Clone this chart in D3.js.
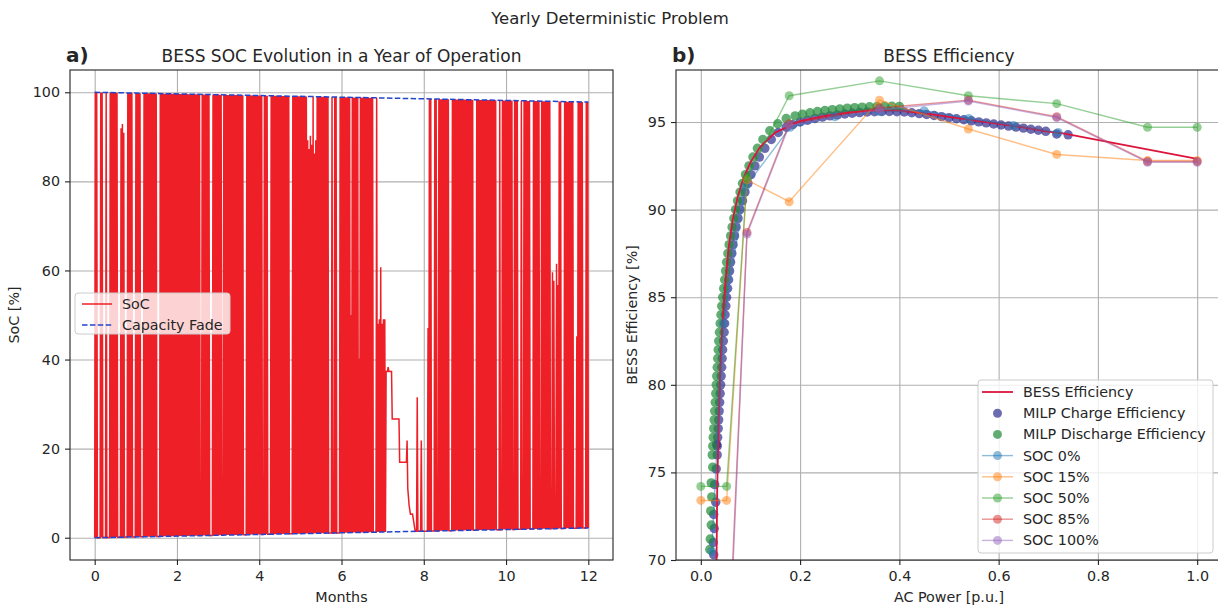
<!DOCTYPE html>
<html>
<head>
<meta charset="utf-8">
<script src="https://cdn.jsdelivr.net/npm/d3@7/dist/d3.min.js"></script>
<style>
  body { margin: 0; background: #fff; }
  svg text { font-family: "DejaVu Sans", sans-serif; fill: #262626; }
</style>
</head>
<body>
<svg id="fig" width="1218" height="605"></svg>
<script>
/** Capacity fade limits (SoC %) at start and end of the year */
var fadeMonths = [0, 12],
    fadeUpper = [100, 97.8],
    fadeLower = [0, 2.2];

/** SoC every half day, as % of the usable window between the fade limits */
var socLevel = [
    0,100,0,100,0,0,0,0,0,100,0,100,0,0,0,0,0,100,0,0,
    0,0,0,100,0,100,0,100,0,100,0,100,0,100,0,0,0,0,0,92,
    0,93,0,91,0,0,0,0,0,100,0,100,0,100,0,100,0,0,0,0,
    0,100,0,100,0,100,0,100,0,0,0,0,0,100,0,100,0,100,0,100,
    0,100,0,100,0,100,0,100,0,100,0,100,0,0,0,0,0,100,0,100,
    0,100,0,100,0,100,0,100,0,100,0,100,0,100,0,100,0,100,0,100,
    0,100,0,100,0,100,0,100,0,100,0,100,0,100,0,100,0,100,0,100,
    0,100,0,100,0,100,0,100,0,100,0,100,0,100,0,100,0,0,0,100,
    0,100,0,100,0,100,0,100,0,100,0,0,0,0,0,100,0,100,0,100,
    0,100,0,100,0,100,0,100,0,0,0,100,0,100,0,100,0,100,0,100,
    0,100,0,100,0,100,0,100,0,100,0,100,0,100,0,100,0,100,0,100,
    0,0,0,0,0,100,0,100,0,100,0,100,0,100,0,100,0,100,0,100,
    0,100,0,100,0,100,0,100,0,0,0,100,0,100,0,100,0,0,0,0,
    0,100,0,100,0,100,0,100,0,100,0,100,0,100,0,100,0,100,0,100,
    0,100,0,100,0,100,0,100,0,0,0,0,0,100,0,100,0,100,0,100,
    0,100,0,100,0,100,0,100,0,100,0,100,0,100,0,90,0,88,0,91,
    0,89,0,100,0,87,0,90,0,100,0,100,0,100,0,100,0,100,0,100,
    0,100,0,100,0,100,0,0,0,0,0,100,0,0,0,100,0,100,0,0,
    0,0,0,100,0,100,0,100,0,100,0,100,0,100,0,100,0,100,0,50,
    0,100,0,100,0,100,0,100,0,100,0,40,0,100,0,100,0,100,0,100,
    0,100,0,100,0,100,0,100,0,100,0,100,0,0,0,0,0,100,0,48,
    0,49,0,61,0,48,0,49,0,49,0,37,37,37,38,37,37,37,37,37,
    26,26,26,26,26,26,26,26,26,26,26,16,16,16,16,16,16,16,16,16,
    16,16,21,10,8,6,5,4,4,4,4,3,2,1,0,0,0,31,0,0,
    0,0,0,21,0,0,0,0,0,0,0,0,0,47,0,100,0,100,0,0,
    0,0,0,100,0,100,0,0,0,100,0,100,0,100,0,100,0,100,0,100,
    0,100,0,100,0,0,0,0,0,100,0,100,0,100,0,100,0,100,0,100,
    0,100,0,100,0,100,0,100,0,100,0,100,0,100,0,100,0,100,0,100,
    0,0,0,0,0,100,0,100,0,100,0,100,0,100,0,100,0,100,0,100,
    0,100,0,100,0,100,0,100,0,100,0,100,0,100,0,0,0,0,0,100,
    0,0,0,100,0,100,0,100,0,100,0,100,0,100,0,100,0,100,0,0,
    0,100,0,100,0,100,0,0,0,0,0,100,0,0,0,100,0,100,0,100,
    0,100,0,100,0,0,0,0,0,100,0,100,0,100,0,100,0,100,0,0,
    0,100,0,100,0,100,0,100,0,100,0,100,0,100,0,0,0,60,0,58,
    0,0,0,62,0,57,0,100,0,100,0,0,0,0,0,100,0,100,0,100,
    0,100,0,100,0,100,0,100,0,0,0,0,0,45,0,100,0,100,0,100,
    0,100,0,0,0,0,0,100,0,100,
    0
];
var socStepDays = 0.5,
    daysPerMonth = 365 / 12;

/** BESS efficiency curve */
var effPower = [0.031, 0.033, 0.036, 0.040, 0.045, 0.050, 0.056, 0.064, 0.074, 0.086, 0.100, 0.120, 0.150,
                0.200, 0.250, 0.300, 0.350, 0.400, 0.450, 0.500, 0.550, 0.600, 0.650, 0.700, 0.730, 1.000];
var effValue = [68.0, 74.0, 78.0, 81.5, 84.0, 86.0, 87.8, 89.4, 90.7, 91.8, 92.7, 93.6, 94.4,
                95.05, 95.35, 95.55, 95.65, 95.65, 95.5, 95.3, 95.1, 94.9, 94.7, 94.45, 94.35, 92.9];

/** MILP charge efficiency points */
var chargePower = [0.026, 0.025, 0.027, 0.026, 0.030, 0.028, 0.031, 0.033, 0.032,
                   0.033, 0.034, 0.035, 0.036, 0.037, 0.038, 0.039, 0.040, 0.041, 0.042, 0.043, 0.044,
                   0.0455, 0.047, 0.048, 0.049, 0.0505, 0.052, 0.054, 0.056, 0.058, 0.060, 0.0625, 0.065,
                   0.068, 0.071, 0.075, 0.079, 0.084, 0.089, 0.095, 0.101, 0.109, 0.118, 0.129, 0.142,
                   0.156, 0.172, 0.185, 0.200, 0.215, 0.230, 0.245, 0.260, 0.275, 0.290, 0.305, 0.320,
                   0.335, 0.350, 0.365, 0.380, 0.395, 0.410, 0.425, 0.440, 0.455, 0.470, 0.485, 0.500,
                   0.515, 0.530, 0.545, 0.560, 0.575, 0.590, 0.605, 0.620, 0.635, 0.650, 0.665, 0.680,
                   0.695, 0.717, 0.740];
var chargeEff = [70.3, 71.0, 71.8, 72.6, 73.3, 74.3, 75.2, 76.0, 76.6,
                 76.5, 77.0, 77.5, 78.0, 78.5, 79.0, 79.5, 80.0, 80.5, 81.0, 81.5, 82.0,
                 82.5, 83.0, 83.5, 84.0, 84.5, 85.0, 85.5, 86.0, 86.5, 87.0, 87.5, 88.0,
                 88.5, 89.0, 89.5, 90.0, 90.5, 91.0, 91.5, 92.0, 92.5, 93.0, 93.5, 94.0,
                 94.4, 94.7, 94.85, 95.0, 95.1, 95.2, 95.28, 95.35, 95.41, 95.46, 95.5, 95.54,
                 95.57, 95.59, 95.6, 95.6, 95.59, 95.57, 95.53, 95.48, 95.43, 95.37, 95.31, 95.25,
                 95.19, 95.13, 95.07, 95.01, 94.95, 94.89, 94.83, 94.77, 94.71, 94.65, 94.59, 94.53,
                 94.47, 94.32, 94.27];

/** MILP discharge efficiency points */
var dischargePower = [0.018, 0.019, 0.021, 0.020, 0.022, 0.021, 0.024, 0.023,
                      0.024, 0.025, 0.026, 0.027, 0.028, 0.029, 0.030, 0.031, 0.032, 0.033, 0.034, 0.035,
                      0.036, 0.0375, 0.039, 0.0405, 0.042, 0.044, 0.046, 0.048, 0.050, 0.052, 0.0545, 0.057,
                      0.060, 0.063, 0.0665, 0.070, 0.074, 0.079, 0.084, 0.090, 0.097, 0.105, 0.114, 0.125,
                      0.139, 0.155, 0.172, 0.190, 0.205, 0.220, 0.235, 0.250, 0.265, 0.280, 0.295, 0.310,
                      0.325, 0.340, 0.355, 0.370, 0.385, 0.400];
var dischargeEff = [70.6, 71.2, 72.0, 72.8, 73.6, 74.4, 75.3, 76.0,
                    76.5, 77.0, 77.5, 78.0, 78.5, 79.0, 79.5, 80.0, 80.5, 81.0, 81.5, 82.0,
                    82.5, 83.0, 83.5, 84.0, 84.5, 85.0, 85.5, 86.0, 86.5, 87.0, 87.5, 88.0,
                    88.5, 89.0, 89.5, 90.0, 90.5, 91.0, 91.5, 92.0, 92.5, 93.0, 93.5, 94.0,
                    94.5, 94.9, 95.2, 95.35, 95.45, 95.53, 95.6, 95.66, 95.71, 95.75, 95.79, 95.82,
                    95.85, 95.87, 95.89, 95.9, 95.9, 95.89];

/** Efficiency curves at fixed SOC */
var soc0Power = [0.022, 0.045, 0.090, 0.180, 0.270, 0.360, 0.450, 0.540, 0.630, 0.720],
    soc0Eff   = [70.5, 83.5, 91.3, 94.7, 95.3, 95.6, 95.65, 95.2, 94.8, 94.4];
var soc15Power = [0.0, 0.052, 0.093, 0.178, 0.360, 0.539, 0.717, 0.900, 1.000],
    soc15Eff   = [73.4, 73.4, 91.7, 90.45, 96.25, 94.6, 93.15, 92.8, 92.8];
var soc50Power = [0.0, 0.052, 0.093, 0.178, 0.360, 0.539, 0.717, 0.900, 1.000],
    soc50Eff   = [74.2, 74.2, 91.8, 96.5, 97.35, 96.5, 96.05, 94.7, 94.7];
var soc85Power = [0.052, 0.093, 0.178, 0.360, 0.539, 0.717, 0.900, 1.000],
    soc85Eff   = [62.0, 88.7, 94.9, 95.8, 96.25, 95.3, 92.75, 92.75];
var soc100Power = [0.055, 0.093, 0.178, 0.360, 0.539, 0.717, 0.900, 1.000],
    soc100Eff   = [63.0, 88.6, 94.8, 95.7, 96.2, 95.25, 92.7, 92.7];

var socCurveNames = ['SOC 0%', 'SOC 15%', 'SOC 50%', 'SOC 85%', 'SOC 100%'];


/** Layout and styling */
var svg = d3.select('#fig');
var fontSize = 14.3,
    gridColor = '#b0b0b0',
    socColor = '#ee1f26',
    fadeColor = '#2444cc',
    effColor = '#dc143c',
    chargeColor = '#2e2e8f',
    dischargeColor = '#1f8a36',
    socCurveColors = ['#1f77b4', '#ff7f0e', '#2ca02c', '#d62728', '#9467bd'];

var boxL = {left: 70, right: 613, top: 70, bottom: 560},
    boxR = {left: 676, right: 1222, top: 70, bottom: 560};

var xL = d3.scaleLinear().domain([-0.6, 12.6]).range([boxL.left, boxL.right]),
    yL = d3.scaleLinear().domain([-5, 105]).range([boxL.bottom, boxL.top]),
    xR = d3.scaleLinear().domain([-0.05, 1.05]).range([boxR.left, boxR.right]),
    yR = d3.scaleLinear().domain([70, 97.97]).range([boxR.bottom, boxR.top]);

svg.append('rect').attr('width', 1218).attr('height', 605).style('fill', '#fff');

svg.append('text')
    .attr('x', 610).attr('y', 24)
    .attr('text-anchor', 'middle')
    .style('font-size', '16.5px')
    .text('Yearly Deterministic Problem');

/** draws the grid for one axes box */
function drawAxes(box, x, y, xTicks, yTicks) {
    var g = svg.append('g');
    var w = box.right - box.left, h = box.bottom - box.top;

    g.append('g')
        .attr('transform', 'translate(0,' + box.bottom + ')')
        .call(d3.axisBottom(x).tickValues(xTicks).tickSize(-h).tickFormat(''))
        .call(function (s) {
            s.select('.domain').remove();
            s.selectAll('line').style('stroke', gridColor).style('stroke-width', 1.1);
        });
    g.append('g')
        .attr('transform', 'translate(' + box.left + ',0)')
        .call(d3.axisLeft(y).tickValues(yTicks).tickSize(-w).tickFormat(''))
        .call(function (s) {
            s.select('.domain').remove();
            s.selectAll('line').style('stroke', gridColor).style('stroke-width', 1.1);
        });
    return g;
}

/** frame, ticks and tick labels */
function drawTicks(box, x, y, xTicks, yTicks, xFmt, yFmt) {
    var g = svg.append('g');
    g.append('rect')
        .attr('x', box.left).attr('y', box.top)
        .attr('width', box.right - box.left).attr('height', box.bottom - box.top)
        .style('fill', 'none').style('stroke', '#222').style('stroke-width', 1.1);

    g.append('g')
        .attr('transform', 'translate(0,' + box.bottom + ')')
        .call(d3.axisBottom(x).tickValues(xTicks).tickSize(5).tickPadding(6).tickFormat(xFmt))
        .call(function (s) {
            s.select('.domain').remove();
            s.selectAll('line').style('stroke', '#222').style('stroke-width', 1.1);
            s.selectAll('text').style('font-size', fontSize + 'px').style('fill', '#262626')
                .style('font-family', '"DejaVu Sans", sans-serif');
        });
    g.append('g')
        .attr('transform', 'translate(' + box.left + ',0)')
        .call(d3.axisLeft(y).tickValues(yTicks).tickSize(5).tickPadding(5).tickFormat(yFmt))
        .call(function (s) {
            s.select('.domain').remove();
            s.selectAll('line').style('stroke', '#222').style('stroke-width', 1.1);
            s.selectAll('text').style('font-size', fontSize + 'px').style('fill', '#262626')
                .style('font-family', '"DejaVu Sans", sans-serif');
        });
}

function axisLabels(box, title, panel, xLabel, yLabel, yLabelX) {
    var cx = (box.left + box.right) / 2, cy = (box.top + box.bottom) / 2;
    svg.append('text')
        .attr('x', cx).attr('y', 62)
        .attr('text-anchor', 'middle')
        .style('font-size', '17px')
        .text(title);
    svg.append('text')
        .attr('x', box.left - 4).attr('y', 62)
        .style('font-size', '20px').style('font-weight', 'bold')
        .text(panel);
    svg.append('text')
        .attr('x', cx).attr('y', 602)
        .attr('text-anchor', 'middle')
        .style('font-size', fontSize + 'px')
        .text(xLabel);
    svg.append('text')
        .attr('transform', 'translate(' + yLabelX + ',' + cy + ') rotate(-90)')
        .attr('text-anchor', 'middle')
        .style('font-size', fontSize + 'px')
        .text(yLabel);
}

/** ---------- a) SoC over the year ---------- */
var monthTicks = [0, 2, 4, 6, 8, 10, 12],
    socTicks = [0, 20, 40, 60, 80, 100];

drawAxes(boxL, xL, yL, monthTicks, socTicks);

var upperAt = d3.scaleLinear().domain(fadeMonths).range(fadeUpper),
    lowerAt = d3.scaleLinear().domain(fadeMonths).range(fadeLower);

var socPoints = socLevel.map(function (v, i) {
    var m = i * socStepDays / daysPerMonth;
    var lo = lowerAt(m), hi = upperAt(m);
    return [m, lo + v / 100 * (hi - lo)];
});

var lineL = d3.line()
    .x(function (d) { return xL(d[0]); })
    .y(function (d) { return yL(d[1]); });

svg.append('path')
    .datum(socPoints)
    .attr('d', lineL)
    .style('fill', 'none')
    .style('stroke', socColor)
    .style('stroke-width', 1.5);

[fadeUpper, fadeLower].forEach(function (vals) {
    svg.append('path')
        .datum(fadeMonths.map(function (m, i) { return [m, vals[i]]; }))
        .attr('d', lineL)
        .style('fill', 'none')
        .style('stroke', fadeColor)
        .style('stroke-width', 1.5)
        .style('stroke-dasharray', '5.5,2.4');
});

drawTicks(boxL, xL, yL, monthTicks, socTicks, d3.format('d'), d3.format('d'));
axisLabels(boxL, 'BESS SOC Evolution in a Year of Operation', 'a)', 'Months', 'SoC [%]', 19);

// legend a)
var legL = svg.append('g');
legL.append('rect')
    .attr('x', 75).attr('y', 293).attr('width', 155).attr('height', 41).attr('rx', 3)
    .style('fill', '#fff').style('fill-opacity', 0.8)
    .style('stroke', '#cccccc').style('stroke-width', 1);
[{label: 'SoC', color: socColor, dash: null, y: 304},
 {label: 'Capacity Fade', color: fadeColor, dash: '5.5,2.4', y: 325}].forEach(function (e) {
    legL.append('line')
        .attr('x1', 82).attr('x2', 112).attr('y1', e.y).attr('y2', e.y)
        .style('stroke', e.color).style('stroke-width', 1.5)
        .style('stroke-dasharray', e.dash);
    legL.append('text')
        .attr('x', 122).attr('y', e.y).attr('dy', '0.35em')
        .style('font-size', fontSize + 'px')
        .text(e.label);
});

/** ---------- b) BESS efficiency ---------- */
var powerTicks = [0, 0.2, 0.4, 0.6, 0.8, 1.0],
    effTicks = [70, 75, 80, 85, 90, 95];

drawAxes(boxR, xR, yR, powerTicks, effTicks);

svg.append('clipPath').attr('id', 'clipR')
    .append('rect')
    .attr('x', boxR.left).attr('y', boxR.top)
    .attr('width', boxR.right - boxR.left).attr('height', boxR.bottom - boxR.top);

var plotR = svg.append('g').attr('clip-path', 'url(#clipR)');

function scatter(px, py, color) {
    plotR.append('g')
        .selectAll('circle')
        .data(px)
        .enter()
        .append('circle')
        .attr('cx', function (d) { return xR(d); })
        .attr('cy', function (d, i) { return yR(py[i]); })
        .attr('r', 4.7)
        .style('fill', color)
        .style('fill-opacity', 0.7);
}
scatter(chargePower, chargeEff, chargeColor);
scatter(dischargePower, dischargeEff, dischargeColor);

var lineR = d3.line()
    .x(function (d) { return xR(d[0]); })
    .y(function (d) { return yR(d[1]); });

plotR.append('path')
    .datum(effPower.map(function (p, i) { return [p, effValue[i]]; }))
    .attr('d', lineR)
    .style('fill', 'none')
    .style('stroke', effColor)
    .style('stroke-width', 1.8);

var socCurves = [[soc0Power, soc0Eff], [soc15Power, soc15Eff], [soc50Power, soc50Eff],
                 [soc85Power, soc85Eff], [soc100Power, soc100Eff]];

socCurves.forEach(function (c, k) {
    var pts = c[0].map(function (p, i) { return [p, c[1][i]]; });
    var g = plotR.append('g');
    g.append('path')
        .datum(pts)
        .attr('d', lineR)
        .style('fill', 'none')
        .style('stroke', socCurveColors[k])
        .style('stroke-opacity', 0.5)
        .style('stroke-width', 1.4);
    g.selectAll('circle')
        .data(pts)
        .enter()
        .append('circle')
        .attr('cx', function (d) { return xR(d[0]); })
        .attr('cy', function (d) { return yR(d[1]); })
        .attr('r', 4.5)
        .style('fill', socCurveColors[k])
        .style('fill-opacity', 0.5);
});

drawTicks(boxR, xR, yR, powerTicks, effTicks, d3.format('.1f'), d3.format('d'));
axisLabels(boxR, 'BESS Efficiency', 'b)', 'AC Power [p.u.]', 'BESS Efficiency [%]', 637);

// legend b)
var legR = svg.append('g');
legR.append('rect')
    .attr('x', 978).attr('y', 380).attr('width', 235).attr('height', 173).attr('rx', 3)
    .style('fill', '#fff').style('fill-opacity', 0.8)
    .style('stroke', '#cccccc').style('stroke-width', 1);

var legItems = [{label: 'BESS Efficiency', kind: 'line', color: effColor},
                {label: 'MILP Charge Efficiency', kind: 'dot', color: chargeColor},
                {label: 'MILP Discharge Efficiency', kind: 'dot', color: dischargeColor}]
    .concat(socCurveNames.map(function (n, k) {
        return {label: n, kind: 'both', color: socCurveColors[k]};
    }));

legItems.forEach(function (e, k) {
    var y = 392 + k * 21.2;
    if (e.kind !== 'dot') {
        legR.append('line')
            .attr('x1', 982).attr('x2', 1013).attr('y1', y).attr('y2', y)
            .style('stroke', e.color)
            .style('stroke-width', e.kind === 'line' ? 1.8 : 1.4)
            .style('stroke-opacity', e.kind === 'line' ? 1 : 0.5);
    }
    if (e.kind !== 'line') {
        legR.append('circle')
            .attr('cx', 997.5).attr('cy', y).attr('r', e.kind === 'dot' ? 4.5 : 4.5)
            .style('fill', e.color)
            .style('fill-opacity', e.kind === 'dot' ? 0.7 : 0.5);
    }
    legR.append('text')
        .attr('x', 1023).attr('y', y).attr('dy', '0.35em')
        .style('font-size', fontSize + 'px')
        .text(e.label);
});
</script>
</body>
</html>
